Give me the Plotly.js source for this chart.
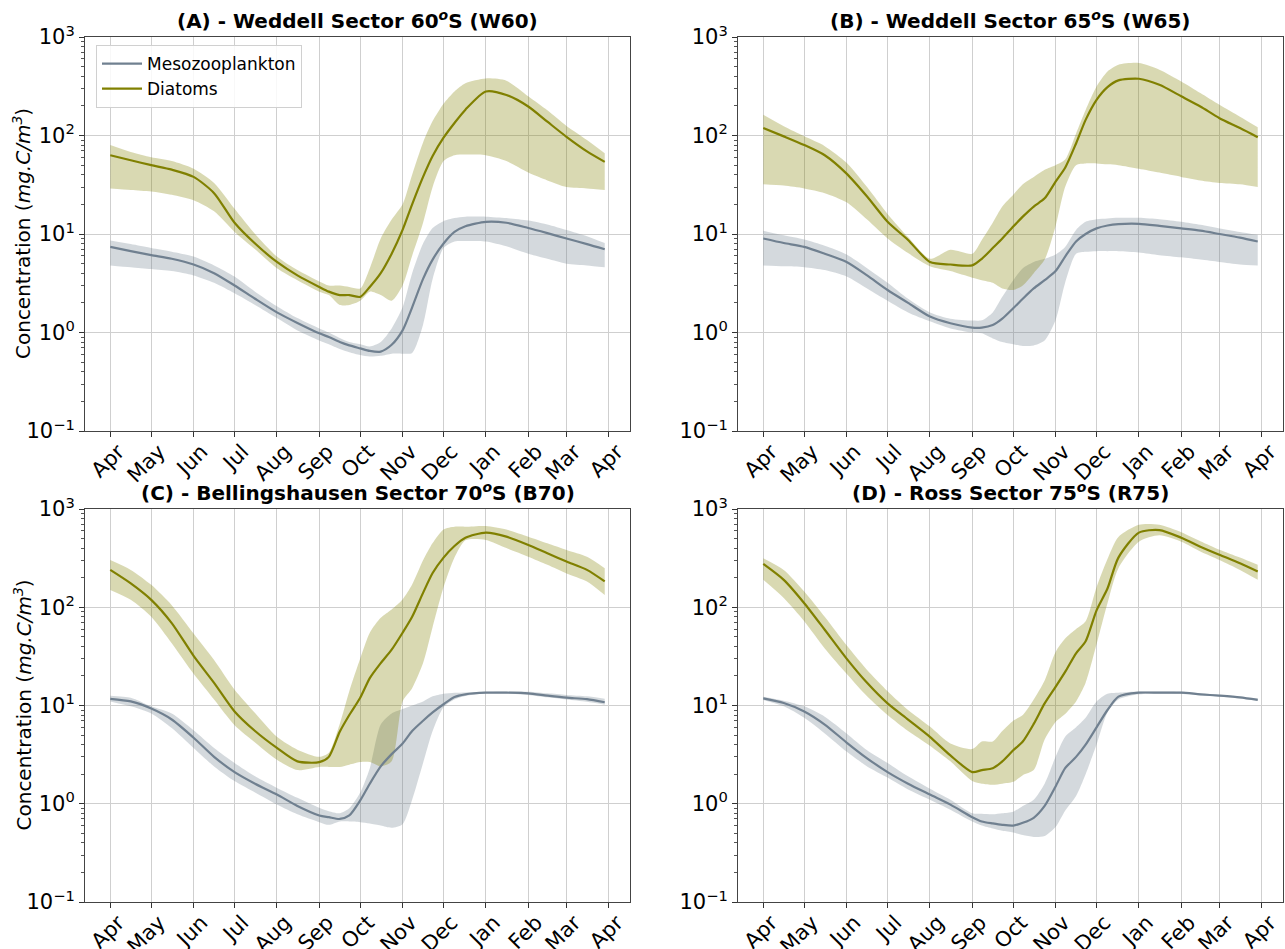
<!DOCTYPE html>
<html>
<head>
<meta charset="utf-8">
<script src="https://cdn.plot.ly/plotly-3.0.1.min.js"></script>
<style>html,body{margin:0;padding:0;background:#fff;}#chart{width:1285px;height:949px;}</style>
</head>
<body>
<div id="chart"></div>
<script>
// ---- tick labels / categories ----
const monthLabels = ['Apr','May','Jun','Jul','Aug','Sep','Oct','Nov','Dec','Jan','Feb','Mar','Apr'];
const monthDays   = [0,30,61,91,122,153,183,214,244,275,306,334,365];
const yTickVals   = [0.1,1,10,100,1000];
const yTickText   = ['10<sup>−1</sup>','10<sup>0</sup>','10<sup>1</sup>','10<sup>2</sup>','10<sup>3</sup>'];
const yTitle      = 'Concentration (<i>mg.C/m<sup>3</sup></i>)';
const panelTitles = [
  '(A) - Weddell Sector 60<sup><i>o</i></sup>S (W60)',
  '(B) - Weddell Sector 65<sup><i>o</i></sup>S (W65)',
  '(C) - Bellingshausen Sector 70<sup><i>o</i></sup>S (B70)',
  '(D) - Ross Sector 75<sup><i>o</i></sup>S (R75)'
];
const seriesNames = ['Mesozooplankton','Diatoms'];

// days since 1 April
const days = [0,15,30,45,61,76,91,106,122,137,153,160,168,175,183,190,198,206,214,221,229,236,244,252,260,275,290,306,320,334,349,362];

// ---- Panel A (W60) ----
const A_diaMean = [63,56,50,45,38,26,13,8.0,5.2,3.8,2.9,2.6,2.4,2.4,2.3,2.9,4.0,6.3,11,20,38,62,95,134,183,280,258,197,138,97,69,54];
const A_diaLow  = [29,28,27,25,22,17,10.5,7,4.5,3.4,2.6,2.4,1.9,1.9,2.1,2.6,2.4,2.1,3.0,6.0,13,30,55,63,64,63,55,42,35,30,29,28];
const A_diaHigh = [80,68,60,55,46,33,18,10,5.9,4.3,3.3,3.0,3.0,2.9,2.8,4.5,9,14,20,40,85,140,210,280,340,380,360,250,180,125,90,66];
const A_mesMean = [7.4,6.7,6.1,5.6,4.9,4.0,3.0,2.2,1.6,1.25,0.98,0.9,0.8,0.74,0.69,0.65,0.64,0.75,1.05,1.8,3.5,5.5,8,10.5,12,13.3,13,11.5,10.2,9.0,7.9,7.0];
const A_mesLow  = [4.8,4.6,4.4,4.2,3.8,3.2,2.5,1.9,1.4,1.05,0.83,0.76,0.68,0.63,0.59,0.57,0.58,0.61,0.61,0.62,1.2,3.5,7.2,8.4,8.5,8.4,7.5,6.3,5.6,5.0,4.8,4.6];
const A_mesHigh = [8.6,7.9,7.2,6.6,5.9,4.8,3.7,2.6,1.85,1.4,1.1,1.0,0.88,0.8,0.76,0.72,0.8,1.1,1.8,4.0,8,11.5,13.5,14.5,15,15,14.5,13.7,12.5,11,9.5,8.1];

// ---- Panel B (W65) ----
const B_diaMean = [119,98,80,63,41,24,13.3,8.7,5.2,4.9,4.8,5.6,7.2,9.0,11.9,15,19,23,34,47,83,144,230,310,363,377,327,250,197,150,119,96];
const B_diaLow  = [32,31,29,26,21,14,9,6.4,4.7,4.2,3.6,3.4,3.2,2.8,2.7,3.0,4.0,5.5,12,30,50,52,52,51,50,46,42,38,35,33,32,30];
const B_diaHigh = [162,124,98,78,53,30,16,9.3,5.6,6.9,6.3,8.7,13,19,25,32,38,45,50,57,105,182,315,447,523,545,466,354,270,205,155,121];
const B_mesMean = [9.0,8.1,7.4,6.3,5.2,3.8,2.7,2.0,1.45,1.24,1.12,1.12,1.19,1.38,1.76,2.2,2.8,3.4,4.2,5.9,8.4,10,11.4,12.2,12.6,12.7,12.1,11.4,10.8,10,9.2,8.4];
const B_mesLow  = [4.8,4.7,4.6,4.3,3.7,2.8,2.1,1.6,1.3,1.1,1.0,0.98,0.87,0.80,0.76,0.73,0.74,0.83,1.33,3.2,6.3,6.6,6.7,6.7,6.7,6.5,6.1,5.8,5.5,5.2,4.9,4.8];
const B_mesHigh = [10.8,9.7,8.8,7.6,6.2,4.5,3.2,2.2,1.6,1.38,1.32,1.33,1.6,2.3,3.4,4.5,5.2,5.6,6.2,7.4,11,13.3,14.1,14.4,14.6,14.6,14.1,13.3,12.4,11.4,10.5,9.8];

// ---- Panel C (B70) ----
const C_diaMean = [240,175,119,69,32,17,8.7,5.5,3.7,2.7,2.65,3.0,5.4,8.0,12,19,27,37,55,80,140,223,320,420,510,575,523,430,354,292,240,183];
const C_diaLow  = [150,119,80,43,21,11.5,6.3,4.2,2.8,2.2,2.37,2.37,2.37,2.5,2.66,2.66,2.4,2.7,11,15,27,63,160,320,480,484,400,327,270,221,183,133];
const C_diaHigh = [302,240,169,105,54,29,14.5,8.4,4.8,3.55,3.0,3.3,6.5,14,30,55,78,95,120,170,300,450,620,660,660,672,618,523,448,383,327,250];
const C_mesMean = [11.7,11,9.3,7.2,4.7,3.0,2.1,1.6,1.24,0.95,0.76,0.73,0.70,0.76,1.08,1.6,2.4,3.2,4.1,5.5,7.0,8.5,10.3,12.2,13,13.5,13.5,13.3,12.6,12.0,11.6,10.8];
const C_mesLow  = [11,9.8,8.3,5.9,3.7,2.4,1.7,1.3,0.98,0.78,0.65,0.61,0.66,0.66,0.65,0.63,0.6,0.57,0.62,1.1,2.6,5.5,9.6,11.5,12.5,13.3,13.3,12.8,12.1,11.5,10.9,10.2];
const C_mesHigh = [12.6,12,9.8,8.3,5.6,3.7,2.6,1.9,1.45,1.15,0.91,0.84,0.8,0.9,1.3,2.3,6.4,8.3,9.2,10,11,12.4,13.2,13.5,13.6,13.8,13.9,13.8,13.3,12.8,12.4,11.7];

// ---- Panel D (R75) ----
const D_diaMean = [276,190,110,59,30,17,10.5,7.2,4.8,3.1,2.1,2.2,2.3,2.7,3.5,4.3,6.5,10.5,15.5,22,34,45,93,155,320,575,610,510,414,342,280,231];
const D_diaLow  = [190,124,72,38,21,12.4,8,5.5,3.9,2.7,1.7,1.6,1.56,1.6,1.67,1.95,2.2,4.5,6.8,8.2,11,17,42,110,250,465,540,465,370,303,240,190];
const D_diaHigh = [316,240,145,80,41,23,14,9,6.1,4.1,3.6,4.3,4.3,5.5,7.0,8.0,11.5,18,35,48,60,72,160,310,520,690,690,580,470,385,320,270];
const D_mesMean = [11.8,10.6,8.7,6.4,4.2,2.9,2.1,1.6,1.24,0.98,0.73,0.66,0.63,0.61,0.60,0.64,0.72,0.95,1.5,2.3,3.0,4.0,6.0,9.0,12.3,13.5,13.5,13.5,13.0,12.6,12.1,11.4];
const D_mesLow  = [11.4,9.8,7.5,5.2,3.4,2.4,1.85,1.4,1.1,0.87,0.66,0.6,0.56,0.53,0.51,0.48,0.46,0.47,0.58,0.85,1.2,2.0,4.0,8.5,11.5,13.0,13.2,13.1,12.7,12.3,11.8,11.2];
const D_mesHigh = [12.3,11.2,9.8,7.7,5.2,3.5,2.6,1.9,1.42,1.1,0.8,0.79,0.78,0.8,0.83,0.95,1.1,1.6,3.0,4.8,6.0,7.5,11,13.2,13.5,13.9,13.9,13.8,13.3,12.8,12.3,11.8];

// ---- assemble ----
const panels = [
  {mes:[A_mesMean,A_mesLow,A_mesHigh], dia:[A_diaMean,A_diaLow,A_diaHigh]},
  {mes:[B_mesMean,B_mesLow,B_mesHigh], dia:[B_diaMean,B_diaLow,B_diaHigh]},
  {mes:[C_mesMean,C_mesLow,C_mesHigh], dia:[C_diaMean,C_diaLow,C_diaHigh]},
  {mes:[D_mesMean,D_mesLow,D_mesHigh], dia:[D_diaMean,D_diaLow,D_diaHigh]}
];
const colMes = 'rgb(112,128,144)', colDia = 'rgb(128,128,0)';
const fillMes = 'rgba(112,128,144,0.3)', fillDia = 'rgba(128,128,0,0.3)';
const traces = [];
panels.forEach((p, i) => {
  const xa = i === 0 ? 'x' : 'x' + (i + 1);
  const ya = i === 0 ? 'y' : 'y' + (i + 1);
  [[p.mes, fillMes], [p.dia, fillDia]].forEach(([s, fc]) => {
    traces.push({x: days, y: s[1], xaxis: xa, yaxis: ya, type: 'scatter', mode: 'lines',
      line: {width: 0, shape: 'spline', smoothing: 0.7}, showlegend: false, hoverinfo: 'skip'});
    traces.push({x: days, y: s[2], xaxis: xa, yaxis: ya, type: 'scatter', mode: 'lines',
      line: {width: 0, shape: 'spline', smoothing: 0.7}, fill: 'tonexty', fillcolor: fc, showlegend: false, hoverinfo: 'skip'});
  });
  [[p.mes, colMes, seriesNames[0]], [p.dia, colDia, seriesNames[1]]].forEach(([s, c, n]) => {
    traces.push({x: days, y: s[0], xaxis: xa, yaxis: ya, type: 'scatter', mode: 'lines', name: n,
      line: {color: c, width: 2.2, shape: 'spline', smoothing: 0.7}, showlegend: i === 0});
  });
});

const W = 1285, H = 949;
const colX = [[85, 630], [738, 1283]];
const rowY = [[37, 431], [509, 902]];
const fontFam = 'DejaVu Sans, Verdana, sans-serif';
const layout = {
  width: W, height: H,
  margin: {l: 0, r: 0, t: 0, b: 0, pad: 0},
  paper_bgcolor: '#fff', plot_bgcolor: '#fff',
  font: {family: fontFam, color: '#000', size: 18},
  showlegend: true,
  legend: {x: 96 / W, y: 1 - 45 / H, xanchor: 'left', yanchor: 'top', bgcolor: 'rgba(255,255,255,0.85)',
    bordercolor: '#d0d0d0', borderwidth: 1, font: {size: 17, family: fontFam}, traceorder: 'normal',
    tracegroupgap: 0, itemwidth: 40},
  annotations: []
};
for (let i = 0; i < 4; i++) {
  const c = colX[i % 2], r = rowY[Math.floor(i / 2)];
  const sfx = i === 0 ? '' : String(i + 1);
  layout['xaxis' + sfx] = {
    domain: [c[0] / W, c[1] / W], anchor: 'y' + sfx, range: [-18.5, 380.5],
    tickmode: 'array', tickvals: monthDays, ticktext: monthLabels, tickangle: -45,
    tickfont: {size: 21, family: fontFam}, ticks: 'outside', ticklen: 5, tickcolor: '#333',
    ticklabelshift: 8, ticklabelstandoff: -6,
    showgrid: true, gridcolor: '#cfcfcf', gridwidth: 1, zeroline: false,
    showline: true, linecolor: '#444', linewidth: 1, mirror: true, automargin: false
  };
  layout['yaxis' + sfx] = {
    domain: [1 - r[1] / H, 1 - r[0] / H], anchor: 'x' + sfx, type: 'log', range: [-1, 3],
    tickmode: 'array', tickvals: yTickVals, ticktext: yTickText,
    tickfont: {size: 21, family: fontFam}, ticks: 'outside', ticklen: 5, tickcolor: '#333',
    minor: {ticks: 'outside', ticklen: 3, tickcolor: '#555', showgrid: false,
      tickvals: [0.2,0.3,0.4,0.5,0.6,0.7,0.8,0.9,2,3,4,5,6,7,8,9,20,30,40,50,60,70,80,90,200,300,400,500,600,700,800,900]},
    showgrid: true, gridcolor: '#cfcfcf', gridwidth: 1, zeroline: false,
    showline: true, linecolor: '#444', linewidth: 1, mirror: true, automargin: false
  };
  if (i % 2 === 0) {
    layout.annotations.push({
      text: yTitle, xref: 'paper', yref: 'paper', x: 22 / W, y: 1 - (r[0] + r[1]) / 2 / H,
      xanchor: 'center', yanchor: 'middle', textangle: -90, showarrow: false,
      font: {size: 20, family: fontFam, color: '#000'}
    });
  }
  layout.annotations.push({
    text: '<b>' + panelTitles[i] + '</b>', xref: 'paper', yref: 'paper',
    x: (c[0] + c[1]) / 2 / W, y: 1 - r[0] / H, xanchor: 'center', yanchor: 'bottom', yshift: 2,
    showarrow: false, font: {size: 20, family: fontFam, color: '#000'}
  });
}
Plotly.newPlot('chart', traces, layout, {displayModeBar: false, staticPlot: true});
</script>
</body>
</html>
